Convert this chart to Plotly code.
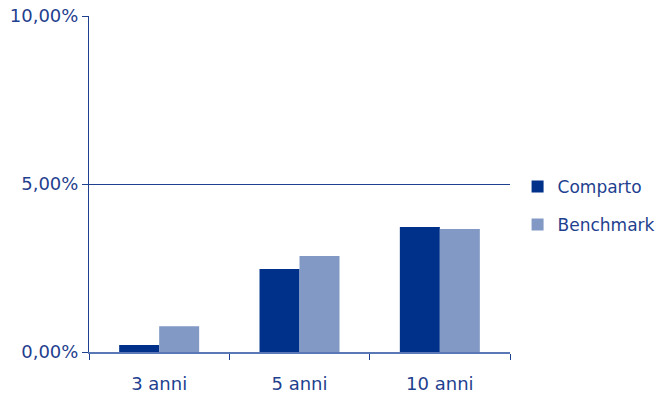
import plotly.graph_objects as go

categories = ["3 anni", "5 anni", "10 anni"]
comparto = [0.21, 2.47, 3.72]
benchmark = [0.77, 2.86, 3.66]
y_ticks = [0, 5, 10]
y_ticktext = ["0,00%", "5,00%", "10,00%"]

dark = "#00318A"
light = "#8199C4"
txt = "#1F3F8F"
axis_col = "#1F3F8F"
font = dict(family="DejaVu Sans", size=18, color=txt)
lfont = dict(family="DejaVu Sans", size=17, color=txt)

fig = go.Figure()
fig.add_trace(go.Bar(x=categories, y=comparto, name="Comparto", marker_color=dark,
                     marker_line_width=0, legend="legend", showlegend=True))
fig.add_trace(go.Bar(x=categories, y=benchmark, name="Benchmark", marker_color=light,
                     marker_line_width=0, legend="legend2", showlegend=True))

fig.update_layout(
    width=658, height=397,
    showlegend=True,
    margin=dict(l=89, r=148, t=16, b=45, autoexpand=False),
    plot_bgcolor="white", paper_bgcolor="white",
    barmode="group", bargap=0.43, bargroupgap=0,
    font=font,
    legend=dict(x=1.018, y=(352-187)/336, xanchor="left", yanchor="middle",
                font=lfont, bgcolor="rgba(0,0,0,0)", itemwidth=30, visible=True),
    legend2=dict(x=1.018, y=(352-225)/336, xanchor="left", yanchor="middle",
                 font=lfont, bgcolor="rgba(0,0,0,0)", itemwidth=30, visible=True),
    xaxis=dict(type="category", tickson="boundaries", ticks="outside", ticklen=6,
               tickcolor=axis_col, showline=True, linecolor="#5A78B5", linewidth=2,
               showgrid=False, tickfont=font, automargin=False, ticklabelstandoff=14),
    yaxis=dict(range=[0, 10.001], tickvals=y_ticks, ticktext=y_ticktext,
               ticks="outside", ticklen=6, tickcolor=axis_col,
               showline=True, linecolor=axis_col, linewidth=1,
               showgrid=True, gridcolor=axis_col, gridwidth=1,
               zeroline=False, tickfont=font, automargin=False),
)

fig.write_html("out.html")
